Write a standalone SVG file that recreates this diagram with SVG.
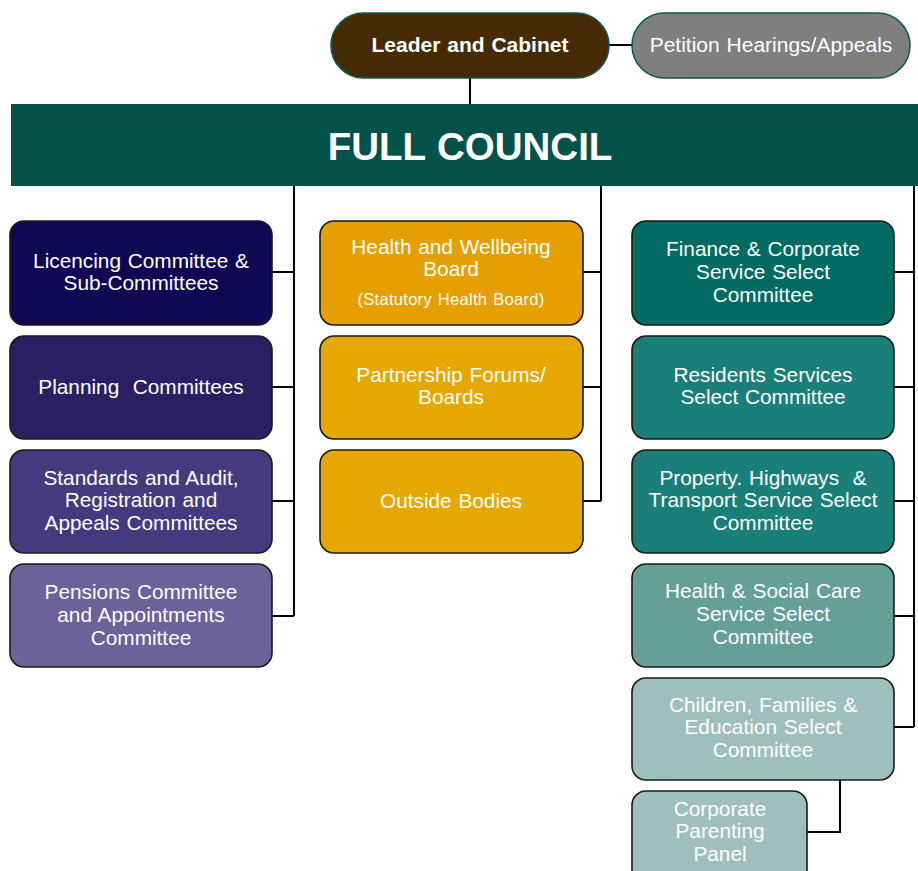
<svg xmlns="http://www.w3.org/2000/svg" width="918" height="871" viewBox="0 0 918 871">
<style>
.box{stroke:#1a1a1a;stroke-width:1.6}
.pill{stroke:#0d5a4c;stroke-width:1.6}
.t{font-family:"Liberation Sans",Arial,sans-serif;font-size:20.8px;fill:#ffffff;text-anchor:middle;word-spacing:1px}
.s{font-size:16.5px;letter-spacing:0.3px}
.b{font-weight:bold;font-size:21px}
.conn{stroke:#000;stroke-width:2;fill:none}
</style>
<rect width="918" height="871" fill="#ffffff"/>
<g id="connectors">
<line class="conn" x1="609" y1="45" x2="632" y2="45"/>
<line class="conn" x1="470" y1="78" x2="470" y2="104"/>
<path class="conn" d="M294 186 V616 M272 272 H294 M272 387 H294 M272 501 H294 M272 616 H294"/>
<path class="conn" d="M601 186 V501 M583 272 H601 M583 387 H601 M583 501 H601"/>
<path class="conn" d="M914 186 V727 M894 272 H914 M894 387 H914 M894 501 H914 M894 616 H914 M894 727 H914"/>
<path class="conn" d="M840 780 V832 H807"/>
</g>
<g id="leader">
<rect class="pill" x="331" y="13" width="278" height="65" rx="32.5" fill="#452c07"/>
<text class="t b" x="470" y="52">Leader and Cabinet</text>
</g>
<g id="petition">
<rect class="pill" x="632" y="13" width="278" height="65" rx="32.5" fill="#7f7f7f"/>
<text class="t" x="771" y="52" style="font-size:21px">Petition Hearings/Appeals</text>
</g>
<g id="full-council">
<rect x="11" y="104" width="910" height="82" fill="#02524a"/>
<text class="t" x="470" y="160" style="font-size:38.5px;font-weight:bold">FULL COUNCIL</text>
</g>
<g id="licencing">
<rect class="box" x="10" y="221" width="262" height="104" rx="14" fill="#110854"/>
<text class="t" x="141" y="268">Licencing Committee &amp;</text>
<text class="t" x="141" y="290">Sub-Committees</text>
</g>
<g id="planning">
<rect class="box" x="10" y="336" width="262" height="103" rx="14" fill="#2b1f63"/>
<text class="t" x="141" y="394" style="white-space:pre">Planning  Committees</text>
</g>
<g id="standards">
<rect class="box" x="10" y="450" width="262" height="103" rx="14" fill="#463a7e"/>
<text class="t" x="141" y="485">Standards and Audit,</text>
<text class="t" x="141" y="507">Registration and</text>
<text class="t" x="141" y="530">Appeals Committees</text>
</g>
<g id="pensions">
<rect class="box" x="10" y="564" width="262" height="103" rx="14" fill="#6c6199"/>
<text class="t" x="141" y="599">Pensions Committee</text>
<text class="t" x="141" y="622">and Appointments</text>
<text class="t" x="141" y="645">Committee</text>
</g>
<g id="health-wellbeing">
<rect class="box" x="320" y="221" width="263" height="104" rx="14" fill="#e59f00"/>
<text class="t" x="451" y="254">Health and Wellbeing</text>
<text class="t" x="451" y="276">Board</text>
<text class="t s" x="451" y="305">(Statutory Health Board)</text>
</g>
<g id="partnership">
<rect class="box" x="320" y="336" width="263" height="103" rx="14" fill="#e6a800"/>
<text class="t" x="451" y="382">Partnership Forums/</text>
<text class="t" x="451" y="404">Boards</text>
</g>
<g id="outside">
<rect class="box" x="320" y="450" width="263" height="103" rx="14" fill="#e6a800"/>
<text class="t" x="451" y="508">Outside Bodies</text>
</g>
<g id="finance">
<rect class="box" x="632" y="221" width="262" height="104" rx="14" fill="#006b63"/>
<text class="t" x="763" y="256">Finance &amp; Corporate</text>
<text class="t" x="763" y="279">Service Select</text>
<text class="t" x="763" y="302">Committee</text>
</g>
<g id="residents">
<rect class="box" x="632" y="336" width="262" height="103" rx="14" fill="#1a7f78"/>
<text class="t" x="763" y="382">Residents Services</text>
<text class="t" x="763" y="404">Select Committee</text>
</g>
<g id="property">
<rect class="box" x="632" y="450" width="262" height="103" rx="14" fill="#1a7f78"/>
<text class="t" x="763" y="485" style="white-space:pre">Property. Highways  &amp;</text>
<text class="t" x="763" y="507">Transport Service Select</text>
<text class="t" x="763" y="530">Committee</text>
</g>
<g id="health-social">
<rect class="box" x="632" y="564" width="262" height="103" rx="14" fill="#669e9a"/>
<text class="t" x="763" y="598">Health &amp; Social Care</text>
<text class="t" x="763" y="621">Service Select</text>
<text class="t" x="763" y="644">Committee</text>
</g>
<g id="children">
<rect class="box" x="632" y="678" width="262" height="102" rx="14" fill="#9fbfbc"/>
<text class="t" x="763" y="712">Children, Families &amp;</text>
<text class="t" x="763" y="734">Education Select</text>
<text class="t" x="763" y="757">Committee</text>
</g>
<g id="corporate-parenting">
<rect class="box" x="632" y="791" width="175" height="100" rx="14" fill="#9fbfbc"/>
<text class="t" x="720" y="816">Corporate</text>
<text class="t" x="720" y="838">Parenting</text>
<text class="t" x="720" y="861">Panel</text>
</g>
</svg>
